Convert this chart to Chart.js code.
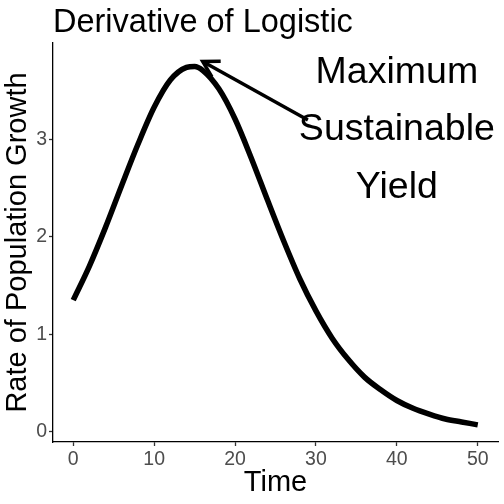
<!DOCTYPE html>
<html>
<head>
<meta charset="utf-8">
<script src="https://cdn.jsdelivr.net/npm/chart.js@4.4.1/dist/chart.umd.min.js"></script>
<style>
html,body{margin:0;padding:0;background:#fff;}
</style>
</head>
<body>
<canvas id="grafico" width="504" height="504"></canvas>
<script>
// Dados
const tempo = [0, 2, 4, 6, 8, 10, 12, 14, 15, 16, 18, 20, 22, 24, 26, 28, 30, 32, 34, 36, 38, 40, 42, 44, 46, 48, 50];
const taxa = [1.35, 1.70, 2.10, 2.53, 2.95, 3.33, 3.61, 3.74, 3.75, 3.71, 3.52, 3.21, 2.81, 2.38, 1.96, 1.57, 1.24, 0.96, 0.74, 0.56, 0.43, 0.32, 0.24, 0.18, 0.13, 0.10, 0.07];
const ticksX = [0, 10, 20, 30, 40, 50];
const ticksY = [0, 1, 2, 3];

const titulo = 'Derivative of Logistic';
const tituloX = 'Time';
const tituloY = 'Rate of Population Growth';

// seta: de (29, 3.2) ate (16, 3.8)
const setaInicio = [29, 3.2];
const setaFim = [16, 3.8];
const anotacaoTexto = ['Maximum', 'Sustainable', 'Yield'];
const anotacaoPos = [40, 3.1];

const fonte = '"Liberation Sans", Arial, sans-serif';

// Desenho do titulo, seta e texto
const extras = {
    id: 'extras',
    afterDatasetsDraw(chart){
        const ctx = chart.ctx;
        const sx = chart.scales.x, sy = chart.scales.y;
        ctx.save();
        // titulo
        ctx.fillStyle = '#000';
        ctx.font = '32.5px ' + fonte;
        ctx.textAlign = 'left';
        ctx.textBaseline = 'alphabetic';
        ctx.fillText(titulo, chart.chartArea.left, 32);

        // seta
        const x0 = sx.getPixelForValue(setaInicio[0]), y0 = sy.getPixelForValue(setaInicio[1]);
        const x1 = sx.getPixelForValue(setaFim[0]), y1 = sy.getPixelForValue(setaFim[1]);
        ctx.strokeStyle = '#000';
        ctx.lineWidth = 3.5;
        ctx.lineCap = 'butt';
        ctx.beginPath(); ctx.moveTo(x0, y0); ctx.lineTo(x1, y1); ctx.stroke();
        const ang = Math.atan2(y0 - y1, x0 - x1);
        const len = 18, abre = Math.PI/6;
        ctx.beginPath();
        ctx.moveTo(x1 + len*Math.cos(ang - abre), y1 + len*Math.sin(ang - abre));
        ctx.lineTo(x1, y1);
        ctx.lineTo(x1 + len*Math.cos(ang + abre), y1 + len*Math.sin(ang + abre));
        ctx.stroke();

        // texto
        const cx = sx.getPixelForValue(anotacaoPos[0]), cy = sy.getPixelForValue(anotacaoPos[1]);
        ctx.font = '37.5px ' + fonte;
        ctx.textAlign = 'center';
        ctx.textBaseline = 'middle';
        const passo = 57.5;
        anotacaoTexto.forEach((t, i)=>{
            ctx.fillText(t, cx, cy + (i - (anotacaoTexto.length-1)/2)*passo);
        });
        ctx.restore();
    }
};

new Chart(document.getElementById('grafico'), {
    type: 'line',
    data: {
        datasets: [{
            data: tempo.map((t, i)=>({x: t, y: taxa[i]})),
            borderColor: '#000',
            borderWidth: 5.5,
            pointRadius: 0,
            cubicInterpolationMode: 'monotone',
            fill: false
        }]
    },
    options: {
        responsive: false,
        animation: false,
        layout: {padding: {top: 43, right: 6, left: 0, bottom: 0}},
        plugins: {legend: {display: false}, tooltip: {enabled: false}, title: {display: false}},
        scales: {
            x: {
                type: 'linear',
                min: -2.5, max: 52.5,
                afterBuildTicks: s=>{ s.ticks = ticksX.map(v=>({value: v})); },
                afterFit: s=>{ s.height = 62; },
                grid: {drawOnChartArea: false, drawTicks: true, tickLength: 4, tickColor: '#333', tickWidth: 1.3},
                border: {display: true, color: '#000', width: 1.3},
                ticks: {color: '#4d4d4d', font: {family: fonte, size: 19.5}, padding: 2, maxRotation: 0},
                title: {display: true, text: tituloX, color: '#000', font: {family: fonte, size: 29}, padding: {top: 0, bottom: 4}}
            },
            y: {
                type: 'linear',
                min: -0.106, max: 3.99,
                afterBuildTicks: s=>{ s.ticks = ticksY.map(v=>({value: v})); },
                afterFit: s=>{ s.width = 53; },
                grid: {drawOnChartArea: false, drawTicks: true, tickLength: 4, tickColor: '#333', tickWidth: 1.3},
                border: {display: true, color: '#000', width: 1.3},
                ticks: {color: '#4d4d4d', font: {family: fonte, size: 19.5}, padding: 2},
                title: {display: true, text: tituloY, color: '#000', font: {family: fonte, size: 29}, padding: {top: 1, bottom: 0}}
            }
        }
    },
    plugins: [extras]
});
</script>
</body>
</html>
